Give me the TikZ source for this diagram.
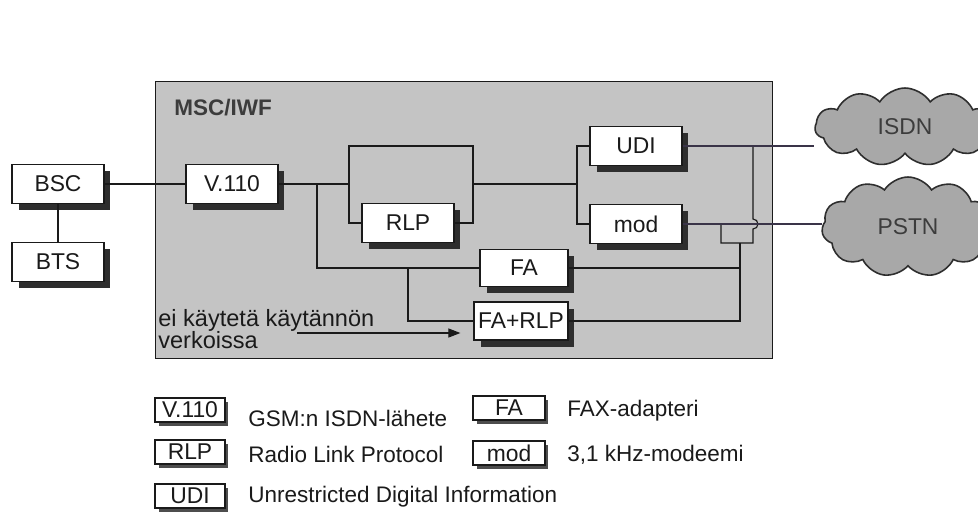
\documentclass[tikz,border=0pt]{standalone}
\usepackage{fontspec}
\setmainfont{Liberation Sans}
\usepackage{tikz}
\usetikzlibrary{arrows.meta,positioning,calc,shadows,shapes.symbols}
\definecolor{cInk}{HTML}{1A1A1A}
\definecolor{cPanel}{HTML}{C4C4C4}
\definecolor{cShade}{HTML}{2E2E2E}
\definecolor{cCloud}{HTML}{A8A8A8}
\definecolor{cWire}{HTML}{3A3448}
\tikzset{
  blk/.style={draw=cInk,fill=white,line width=0.7pt,minimum width=#1,minimum height=0.78cm,inner sep=2pt,font=\fontsize{13}{15}\selectfont,text=cInk,drop shadow={shadow xshift=0.13cm,shadow yshift=-0.13cm,fill=cShade,opacity=1}},
  blk/.default=1.84cm,
  legbox/.style={draw=cInk,fill=white,line width=0.6pt,minimum width=#1,minimum height=0.48cm,inner sep=1pt,font=\fontsize{13}{15}\selectfont,text=cInk,drop shadow={shadow xshift=0.07cm,shadow yshift=-0.07cm,fill=cShade!85,opacity=1}},
  legbox/.default=1.4cm,
  legtxt/.style={anchor=base west,font=\fontsize{12.8}{14}\selectfont,text=cInk,inner sep=0pt},
  panel/.style={draw=cInk,fill=cPanel,line width=0.8pt,anchor=north west,inner sep=0pt},
  wire/.style={line width=0.65pt,draw=cInk},
  ext/.style={line width=0.65pt,draw=cWire},
  cloudnode/.style={cloud,cloud puffs=11,cloud puff arc=115,aspect=2.2,draw=cShade,line width=0.9pt,fill=cCloud,minimum width=#1,font=\fontsize{13}{15}\selectfont,text=cInk!85},
  arr/.style={-{Triangle[length=0.24cm,width=0.18cm]},line width=0.65pt,color=cInk},
}

\begin{document}
\begin{tikzpicture}[x=0.02cm,y=-0.02cm]
  \useasboundingbox (0,0) rectangle (978,522);
  \fill[white] (0,0) rectangle (978,522);

  \node[panel,minimum width=12.34cm,minimum height=5.54cm] (msc) at (155,81) {};
  \node[anchor=west,inner sep=0pt,font=\fontsize{12.8}{14}\selectfont\bfseries,text=cInk!85] (mscl) at (174,108) {MSC/IWF};

  \node[blk] (bsc) at (58,184) {BSC};
  \node[blk] (bts) at (58,262) {BTS};
  \node[blk] (v110) at (232,184) {V.110};
  \node[blk] (rlp) at (408,223) {RLP};
  \node[blk] (udi) at (636,146) {UDI};
  \node[blk] (mod) at (636,224) {mod};
  \node[blk=1.76cm,minimum height=0.74cm] (fa) at (524,268) {FA};
  \node[blk=1.88cm,minimum height=0.76cm] (farlp) at (521,321) {FA+RLP};

  \coordinate (tap) at (317,184);
  \coordinate (lt) at (349,146);
  \coordinate (rt) at (473,146);
  \coordinate (fork) at (577,184);
  \coordinate (tap2) at (408,268);
  \coordinate (col) at (740,243);
  \coordinate (mtap) at (721,224);
  \coordinate (utap) at (753,146);
  \coordinate (hop) at (753,229);
  \coordinate (a0) at (297,333);

  \draw[wire] (bsc) -- (bts);
  \draw[wire] (bsc.east) -- (v110.west);
  \draw[wire] (v110.east) -- (lt |- v110.east);
  \draw[wire] (rlp.west) -| (lt) -- (rt) |- (rlp.east);
  \draw[wire] (rt |- v110.east) -- (fork);
  \draw[wire] (udi.west) -| (fork) |- (mod.west);
  \draw[wire] (tap) |- (fa.west);
  \draw[wire] (tap2) |- (farlp.west);
  \draw[wire] (fa.east) -- (fa.east -| col);
  \draw[wire] (farlp.east) -| (col);
  \draw[wire] (mtap) |- (col) -| (hop) arc[start angle=-90,end angle=90,radius=0.1cm] -- (utap);

  \node[anchor=west,align=left,inner sep=0pt,font=\fontsize{13.4}{12.5}\selectfont,text=cInk] (note) at (158,329) {ei käytetä käytännön\\verkoissa};
  \draw[arr,shorten >=0.26cm] (a0) -- (a0 -| farlp.west);

  \node[cloudnode=3.6cm,minimum height=1.56cm] (isdn) at (905,127) {ISDN};
  \node[cloudnode=3.45cm,minimum height=2cm] (pstn) at (908,227) {PSTN};
  \draw[ext] (udi.east) -- (udi.east -| isdn.west);
  \draw[ext] (mod.east) -- (mod.east -| pstn.west);

  \node[legbox] (k1) at (190,410) {V.110};
  \node[legtxt] (t1) at (248,426) {GSM:n ISDN-lähete};
  \node[legbox] (k2) at (190,452) {RLP};
  \node[legtxt] (t2) at (248,462) {Radio Link Protocol};
  \node[legbox] (k3) at (190,496) {UDI};
  \node[legtxt] (t3) at (248,502) {Unrestricted Digital Information};
  \node[legbox=1.44cm] (k4) at (509,408) {FA};
  \node[legtxt] (t4) at (567,416) {FAX-adapteri};
  \node[legbox=1.44cm] (k5) at (509,453) {mod};
  \node[legtxt] (t5) at (567,461) {3,1 kHz-modeemi};
\end{tikzpicture}
\end{document}
